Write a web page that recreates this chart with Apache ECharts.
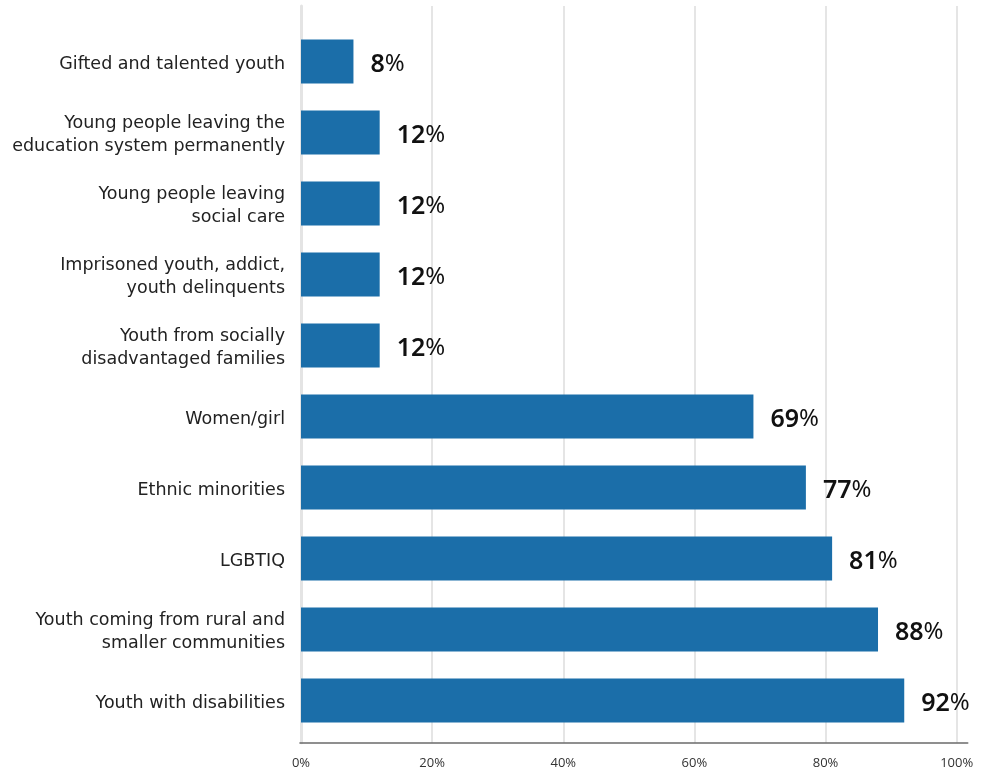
<!DOCTYPE html>
<html>
<head>
<meta charset="utf-8">
<style>
  html, body { margin: 0; padding: 0; background: #ffffff; }
  #chart { width: 987px; height: 773px; }
</style>
<script src="https://cdn.jsdelivr.net/npm/echarts@6/dist/echarts.min.js"></script>
</head>
<body>
<div id="chart"></div>
<script>
// Target groups, listed top to bottom
const categories = [
  'Gifted and talented youth',
  'Young people leaving the\neducation system permanently',
  'Young people leaving\nsocial care',
  'Imprisoned youth, addict,\nyouth delinquents',
  'Youth from socially\ndisadvantaged families',
  'Women/girl',
  'Ethnic minorities',
  'LGBTIQ',
  'Youth coming from rural and\nsmaller communities',
  'Youth with disabilities'
];

// Share of respondents, in percent
const values = [8, 12, 12, 12, 12, 69, 77, 81, 88, 92];

// Percent axis ticks
const tickMin = 0;
const tickMax = 100;
const tickStep = 20;

const BAR_COLOR = '#1b6ea9';
const catFont = '"DejaVu Sans", "Noto Sans", sans-serif';
const valFont = '"Noto Sans", "Open Sans", sans-serif';

const chart = echarts.init(document.getElementById('chart'), null, { renderer: 'canvas' });

chart.setOption({
  animation: false,
  backgroundColor: '#ffffff',
  grid: [
    // bars and category labels
    { left: 301, right: 30.3, top: 26, bottom: 37, containLabel: false },
    // vertical gridlines and percent labels
    { left: 301, right: 30.3, top: 6, bottom: 30.3, containLabel: false },
    // baseline running slightly past the last gridline
    { left: 300, right: 19.3, top: 6, bottom: 30.3, containLabel: false }
  ],
  xAxis: [
    {
      gridIndex: 0, type: 'value', min: tickMin, max: tickMax, show: false
    },
    {
      gridIndex: 1, type: 'value', min: tickMin, max: tickMax, interval: tickStep,
      axisLine: { show: false },
      axisTick: { show: false },
      splitLine: { show: true, lineStyle: { color: '#dcdcdc', width: 1.5 } },
      axisLabel: {
        margin: 14,
        color: '#333333',
        fontSize: 13,
        fontFamily: '"Open Sans", sans-serif',
        formatter: v => v + '%'
      }
    },
    {
      gridIndex: 2, type: 'value', min: 0, max: 1,
      axisLine: { show: true, lineStyle: { color: '#6b6b6b', width: 1.6 } },
      axisTick: { show: false },
      splitLine: { show: false },
      axisLabel: { show: false }
    }
  ],
  yAxis: [
    {
      gridIndex: 0, type: 'category', data: categories, inverse: true,
      axisLine: { show: false },
      axisTick: { show: false },
      splitLine: { show: false },
      axisLabel: {
        margin: 16,
        align: 'right',
        // each line is its own rich fragment so the block sits a little low
        formatter: v => v.split('\n').map(s => '{c|' + s + '}').join('\n'),
        rich: {
          c: {
            color: '#222222',
            fontSize: 17.5,
            lineHeight: 23,
            fontFamily: catFont,
            align: 'right',
            padding: [5, 0, 0, 0]
          }
        }
      }
    },
    {
      gridIndex: 1, type: 'value',
      axisLine: { show: true, lineStyle: { color: '#e4e4e4', width: 3 } },
      axisTick: { show: false },
      axisLabel: { show: false },
      splitLine: { show: false }
    },
    {
      gridIndex: 2, type: 'value', show: false
    }
  ],
  series: [
    {
      type: 'bar',
      xAxisIndex: 0,
      yAxisIndex: 0,
      data: values,
      barWidth: 44,
      itemStyle: { color: BAR_COLOR },
      label: {
        show: true,
        position: 'right',
        distance: 17,
        offset: [0, 3],
        formatter: p => '{n|' + p.value + '}{p|%}',
        rich: {
          n: { fontSize: 25, fontWeight: 600, color: '#111111', fontFamily: valFont },
          p: { fontSize: 24, fontWeight: 400, color: '#111111', fontFamily: valFont }
        }
      }
    }
  ]
});
</script>
</body>
</html>
